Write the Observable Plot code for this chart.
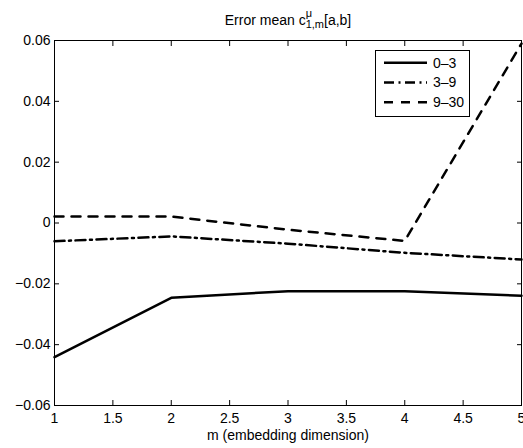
<!DOCTYPE html>
<html><head><meta charset="utf-8">
<script src="https://cdn.jsdelivr.net/npm/d3@7"></script>
<script src="https://cdn.jsdelivr.net/npm/@observablehq/plot@0.6"></script>
<style>
body{margin:0;background:#fff;font-family:"Liberation Sans",Arial,Helvetica,sans-serif}
#wrap{position:relative;width:523px;height:448px}
#overlay{position:absolute;left:0;top:0;pointer-events:none}
</style>
</head><body>
<div id="wrap">
<div id="chart"></div>
</div>
<script>
const mValues = [1, 2, 3, 4, 5];
const seriesNames = ["0–3", "3–9", "9–30"];
const err03 = [-0.0441, -0.0246, -0.0224, -0.0224, -0.0239];
const err39 = [-0.0060, -0.0044, -0.0068, -0.0098, -0.0120];
const err930 = [0.0021, 0.0021, -0.0022, -0.0059, 0.0590];
const xTicks = [1, 1.5, 2, 2.5, 3, 3.5, 4, 4.5, 5];
const yTicks = [-0.06, -0.04, -0.02, 0, 0.02, 0.04, 0.06];
const xLabel = "m (embedding dimension)";

const dashes = [null, "10,4.5,2,4.5", "9,8"];
const allValues = [err03, err39, err930];
const series = seriesNames.map((name, k) => ({
  name, dash: dashes[k],
  data: mValues.map((m, i) => ({m, v: allValues[k][i]}))
}));

const fmtY = d => (d < 0 ? "\u2212" : "") + (d === 0 ? "0" : Math.abs(d).toFixed(2));
const fmtX = d => String(d);
const FONT = '"Liberation Sans", Arial, Helvetica, sans-serif';

const chart = Plot.plot({
  width: 523, height: 448,
  marginLeft: 54, marginRight: 2, marginTop: 40, marginBottom: 43,
  style: {fontFamily: FONT, fontSize: "14px", color: "black", background: "white", overflow: "visible"},
  x: {domain: [1, 5]},
  y: {domain: [-0.06, 0.06]},
  marks: [
    Plot.axisX(xTicks, {anchor: "bottom", tickSize: -5, tickPadding: 13, tickFormat: fmtX, label: null, stroke: "black", fill: "black", fontSize: 14}),
    Plot.axisX(xTicks, {anchor: "top", tickSize: -5, tickFormat: () => "", label: null, stroke: "black"}),
    Plot.axisY(yTicks, {anchor: "left", tickSize: -5, tickPadding: 9, tickFormat: fmtY, label: null, stroke: "black", fill: "black", fontSize: 14}),
    Plot.axisY(yTicks, {anchor: "right", tickSize: -5, tickFormat: () => "", label: null, stroke: "black"}),
    ...series.map(s => Plot.line(s.data, {x: "m", y: "v", stroke: "black", strokeWidth: 2.5, strokeDasharray: s.dash})),
    Plot.frame({stroke: "black", strokeWidth: 1})
  ]
});
document.getElementById("chart").appendChild(chart);

// overlay: title, x label, legend
const ov = d3.select("#wrap").append("svg").attr("id", "overlay")
  .attr("width", 523).attr("height", 448)
  .style("font-family", FONT).style("font-size", "14px");

const title = ov.append("text").attr("x", 0).attr("y", 25).attr("text-anchor", "start").attr("fill", "black");
title.append("tspan").text("Error mean c");
title.append("tspan").attr("font-size", 11).attr("dy", -8).text("\u03bc");
title.append("tspan").attr("font-size", 11).attr("dx", -6.3).attr("dy", 11).text("1,m");
title.append("tspan").attr("dy", -3).text("[a,b]");
const tb = title.node().getBBox();
title.attr("x", 288 - tb.width / 2 - tb.x);

ov.append("text").attr("x", 288).attr("y", 440).attr("text-anchor", "middle").attr("fill", "black").text(xLabel);

const lg = ov.append("g").attr("transform", "translate(375,50)");
lg.append("rect").attr("x", 0.5).attr("y", 0.5).attr("width", 94).attr("height", 66)
  .attr("fill", "white").attr("stroke", "black");
series.forEach((s, i) => {
  const y = 12.7 + i * 19.8;
  lg.append("line").attr("x1", 9).attr("x2", 52).attr("y1", y).attr("y2", y)
    .attr("stroke", "black").attr("stroke-width", 2.5).attr("stroke-dasharray", s.dash);
  lg.append("text").attr("x", 58).attr("y", y).attr("dy", "0.35em").attr("fill", "black").text(s.name);
});
</script>
</body></html>
